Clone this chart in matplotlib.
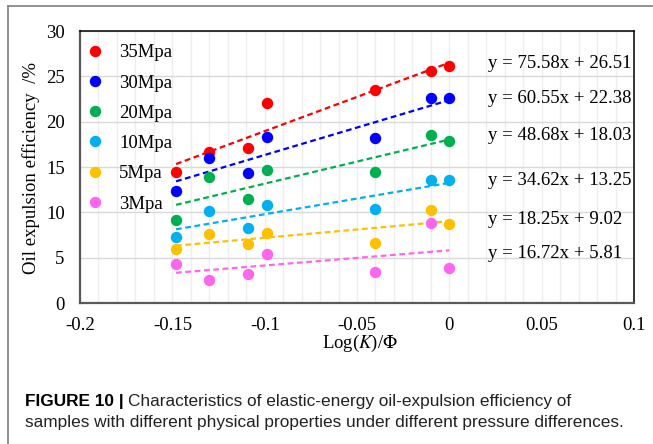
import matplotlib
matplotlib.use("Agg")
import matplotlib.pyplot as plt
from matplotlib.lines import Line2D
import numpy as np

plt.rcParams["font.family"] = "Liberation Serif"
plt.rcParams["mathtext.fontset"] = "stix"

# x positions of the samples (Log(K)/Phi)
x_vals = [-0.148, -0.13, -0.109, -0.099, -0.04, -0.01, 0.0]

# oil expulsion efficiency (%) per pressure difference
labels = ["35Mpa", "30Mpa", "20Mpa", "10Mpa", "5Mpa", "3Mpa"]
y_35 = [14.4, 16.7, 17.1, 22.1, 23.5, 25.6, 26.1]
y_30 = [12.3, 16.0, 14.3, 18.3, 18.2, 22.6, 22.6]
y_20 = [9.2, 13.9, 11.5, 14.7, 14.5, 18.5, 17.9]
y_10 = [7.3, 10.2, 8.3, 10.8, 10.4, 13.6, 13.6]
y_5 = [6.0, 7.6, 6.5, 7.7, 6.6, 10.3, 8.7]
y_3 = [4.3, 2.5, 3.2, 5.4, 3.4, 8.8, 3.9]
series = [y_35, y_30, y_20, y_10, y_5, y_3]

# linear fits as printed on the chart
slopes = [75.58, 60.55, 48.68, 34.62, 18.25, 16.72]
intercepts = [26.51, 22.38, 18.03, 13.25, 9.02, 5.81]
eq_y = [26.4, 22.55, 18.5, 13.55, 9.25, 5.5]

colors = ["#FF0000", "#0000FF", "#00B050", "#00B0F0", "#FFC000", "#FF66F0"]

W, H = 653, 444
fig = plt.figure(figsize=(W / 100, H / 100), dpi=100)
ax = fig.add_axes([80 / W, 1 - 303 / H, (634 - 80) / W, (303 - 31) / H])

fs = 13.5
handles = []
for ys, c, lab, m, b in zip(series, colors, labels, slopes, intercepts):
    ax.plot(x_vals, ys, "o", color=c, markersize=7.2, zorder=3)
    xs = np.array([min(x_vals), max(x_vals)])
    ax.plot(xs, m * xs + b, color=c, lw=1.6, dashes=(2.6, 1.6), zorder=2)
    handles.append(Line2D([], [], marker="o", ls="", color=c, markersize=7.2, label=lab))

for m, b, ey in zip(slopes, intercepts, eq_y):
    ax.text(0.021, ey, f"y = {m:.2f}x + {b:.2f}", fontsize=fs, va="center", ha="left")

ax.legend(handles=handles, loc="upper left", bbox_to_anchor=(-0.007, 1.0), frameon=False,
          fontsize=fs, labelspacing=0.70, handletextpad=1.0, handlelength=0.6,
          borderaxespad=0.3)

ax.set_xlim(-0.2, 0.1)
ax.set_ylim(0, 30)
ax.set_xticks([-0.2, -0.15, -0.1, -0.05, 0, 0.05, 0.1])
ax.set_xticklabels(["-0.2", "-0.15", "-0.1", "-0.05", "0", "0.05", "0.1"])
ax.set_yticks(range(0, 31, 5))
ax.set_xticks(np.arange(-0.2, 0.1001, 0.01), minor=True)
ax.tick_params(axis="y", which="both", length=0, labelsize=fs, pad=11)
ax.tick_params(axis="x", which="both", length=0, labelsize=fs, pad=10)
ax.grid(axis="y", which="major", color="#d9d9d9", lw=1.0)
ax.grid(axis="x", which="both", color="#eeeeee", lw=1.0)
ax.set_axisbelow(True)
for s in ["left", "bottom"]:
    ax.spines[s].set_color("#595959")
    ax.spines[s].set_linewidth(1.6)
for s in ["top", "right"]:
    ax.spines[s].set_color("black")
    ax.spines[s].set_linewidth(1.1)

fig.text(31 / W, 1 - 168 / H, "Oil expulsion efficiency  /%", rotation=90,
         ha="center", va="center", fontsize=fs)
fig.text(360 / W, 1 - 343 / H, r"Log($K$)/$\Phi$", ha="center", va="center", fontsize=fs)

# outer frame
fig.add_artist(Line2D([8 / W, 1.0], [1 - 6 / H, 1 - 6 / H], color="#7f7f7f", lw=1.2))
fig.add_artist(Line2D([8 / W, 8 / W], [1 - 6 / H, 0.0], color="#7f7f7f", lw=1.2))

# caption
cap_fs = 12.4
t1 = fig.text(25 / W, 1 - 405.5 / H, "FIGURE 10 |", fontsize=cap_fs, fontweight="bold",
              family="Liberation Sans", va="baseline", ha="left")
fig.canvas.draw()
bb = t1.get_window_extent()
fig.text((bb.x1 + 4) / W, 1 - 405.5 / H,
         "Characteristics of elastic-energy oil-expulsion efficiency of",
         fontsize=cap_fs, family="Liberation Sans", va="baseline", ha="left", color="#222222")
fig.text(25 / W, 1 - 427 / H,
         "samples with different physical properties under different pressure differences.",
         fontsize=cap_fs, family="Liberation Sans", va="baseline", ha="left", color="#222222")

fig.savefig("out.png", dpi=100)
